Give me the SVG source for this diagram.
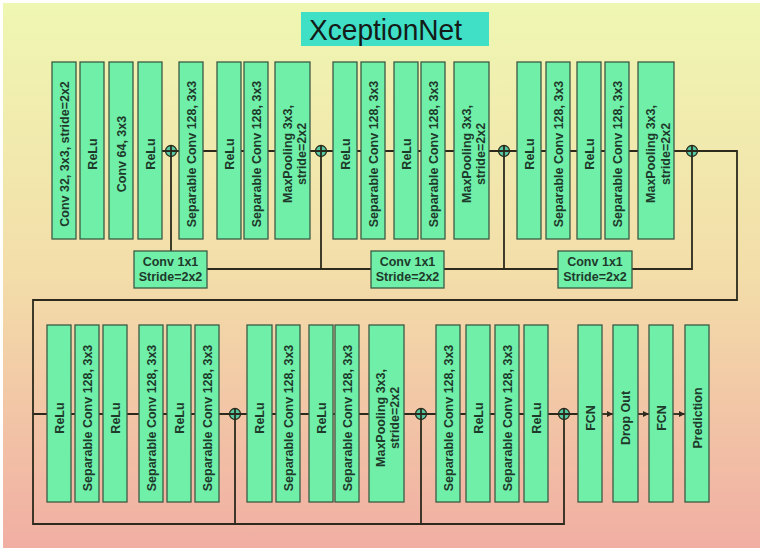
<svg xmlns="http://www.w3.org/2000/svg" width="765" height="553" viewBox="0 0 765 553">
<defs>
<linearGradient id="bg" x1="0" y1="0" x2="0" y2="1">
<stop offset="0" stop-color="#eff7b2"/>
<stop offset="0.5" stop-color="#f3dda9"/>
<stop offset="1" stop-color="#f1aea3"/>
</linearGradient>
<marker id="arr" viewBox="0 0 10 10" refX="10" refY="5" markerWidth="6" markerHeight="6" markerUnits="userSpaceOnUse" orient="auto">
<path d="M0,0 L10,5 L0,10 z" fill="#2b2a1c"/>
</marker>
</defs>
<style>
.b{fill:#70efa9;stroke:#3c5a44;stroke-width:1.3}
.t{font-family:"Liberation Sans",Arial,sans-serif;font-weight:bold;font-size:12.5px;fill:#1e3a2b;text-anchor:middle}
.l{fill:none;stroke:#2b2a1c;stroke-width:1.8}
.c{fill:#55c9a1;stroke:#2b2a1c;stroke-width:1.3}
</style>
<rect x="3" y="3" width="757" height="545" fill="url(#bg)"/>
<g id="title">
<rect x="301" y="12" width="188" height="34" fill="#3fe0c6"/>
<text x="309" y="40" font-family="'Liberation Sans Narrow','Liberation Sans',Arial,sans-serif" font-size="29" fill="#141a18" textLength="153" lengthAdjust="spacingAndGlyphs">XceptionNet</text>
</g>
<g id="connectors">
<path class="l" d="M162,151 H737 V300 H33 V524 H564 V414"/>
<path class="l" d="M33,414 H578"/>
<path class="l" d="M171,151 V251"/>
<path class="l" d="M207,269 H371"/>
<path class="l" d="M321,151 V269"/>
<path class="l" d="M444,269 H558"/>
<path class="l" d="M504,151 V269"/>
<path class="l" d="M632,269 H692 V151"/>
<path class="l" d="M235,414 V524"/>
<path class="l" d="M421,414 V524"/>
<path class="l" d="M602,414 H613" marker-end="url(#arr)"/>
<path class="l" d="M638,414 H649" marker-end="url(#arr)"/>
<path class="l" d="M673,414 H685" marker-end="url(#arr)"/>
</g>
<g id="adds">
<g id="add1"><circle class="c" cx="171" cy="151" r="5.5"/><path class="l" stroke-width="1.2" d="M165.5,151 H176.5 M171,145.5 V156.5"/></g>
<g id="add2"><circle class="c" cx="321" cy="151" r="5.5"/><path class="l" stroke-width="1.2" d="M315.5,151 H326.5 M321,145.5 V156.5"/></g>
<g id="add3"><circle class="c" cx="504" cy="151" r="5.5"/><path class="l" stroke-width="1.2" d="M498.5,151 H509.5 M504,145.5 V156.5"/></g>
<g id="add4"><circle class="c" cx="692" cy="151" r="5.5"/><path class="l" stroke-width="1.2" d="M686.5,151 H697.5 M692,145.5 V156.5"/></g>
<g id="add5"><circle class="c" cx="235" cy="414" r="5.5"/><path class="l" stroke-width="1.2" d="M229.5,414 H240.5 M235,408.5 V419.5"/></g>
<g id="add6"><circle class="c" cx="421" cy="414" r="5.5"/><path class="l" stroke-width="1.2" d="M415.5,414 H426.5 M421,408.5 V419.5"/></g>
<g id="add7"><circle class="c" cx="564" cy="414" r="5.5"/><path class="l" stroke-width="1.2" d="M558.5,414 H569.5 M564,408.5 V419.5"/></g>
</g>
<g id="top-row">
<g id="n1"><rect class="b" x="52" y="62" width="24" height="177"/><text class="t" transform="translate(64,154) rotate(-90)" y="4.5">Conv 32, 3x3, stride=2x2</text></g>
<g id="n2"><rect class="b" x="80" y="62" width="24" height="177"/><text class="t" transform="translate(92,154) rotate(-90)" y="4.5">ReLu</text></g>
<g id="n3"><rect class="b" x="109" y="62" width="24" height="177"/><text class="t" transform="translate(121,154) rotate(-90)" y="4.5">Conv 64, 3x3</text></g>
<g id="n4"><rect class="b" x="138" y="62" width="24" height="177"/><text class="t" transform="translate(150,154) rotate(-90)" y="4.5">ReLu</text></g>
<g id="n5"><rect class="b" x="179" y="62" width="24" height="177"/><text class="t" transform="translate(191,154) rotate(-90)" y="4.5">Separable Conv 128, 3x3</text></g>
<g id="n6"><rect class="b" x="217" y="62" width="24" height="177"/><text class="t" transform="translate(229,154) rotate(-90)" y="4.5">ReLu</text></g>
<g id="n7"><rect class="b" x="244" y="62" width="24" height="177"/><text class="t" transform="translate(256,154) rotate(-90)" y="4.5">Separable Conv 128, 3x3</text></g>
<g id="n8"><rect class="b" x="275" y="62" width="35" height="177"/><text class="t" transform="translate(292.5,154) rotate(-90)"><tspan x="0" y="-1">MaxPooling 3x3,</tspan><tspan x="0" y="13.5">stride=2x2</tspan></text></g>
<g id="n9"><rect class="b" x="333" y="62" width="24" height="177"/><text class="t" transform="translate(345,154) rotate(-90)" y="4.5">ReLu</text></g>
<g id="n10"><rect class="b" x="361" y="62" width="24" height="177"/><text class="t" transform="translate(373,154) rotate(-90)" y="4.5">Separable Conv 128, 3x3</text></g>
<g id="n11"><rect class="b" x="394" y="62" width="24" height="177"/><text class="t" transform="translate(406,154) rotate(-90)" y="4.5">ReLu</text></g>
<g id="n12"><rect class="b" x="421" y="62" width="24" height="177"/><text class="t" transform="translate(433,154) rotate(-90)" y="4.5">Separable Conv 128, 3x3</text></g>
<g id="n13"><rect class="b" x="454" y="62" width="35" height="177"/><text class="t" transform="translate(471.5,154) rotate(-90)"><tspan x="0" y="-1">MaxPooling 3x3,</tspan><tspan x="0" y="13.5">stride=2x2</tspan></text></g>
<g id="n14"><rect class="b" x="517" y="62" width="24" height="177"/><text class="t" transform="translate(529,154) rotate(-90)" y="4.5">ReLu</text></g>
<g id="n15"><rect class="b" x="546" y="62" width="24" height="177"/><text class="t" transform="translate(558,154) rotate(-90)" y="4.5">Separable Conv 128, 3x3</text></g>
<g id="n16"><rect class="b" x="577" y="62" width="24" height="177"/><text class="t" transform="translate(589,154) rotate(-90)" y="4.5">ReLu</text></g>
<g id="n17"><rect class="b" x="605" y="62" width="24" height="177"/><text class="t" transform="translate(617,154) rotate(-90)" y="4.5">Separable Conv 128, 3x3</text></g>
<g id="n18"><rect class="b" x="638" y="62" width="36" height="177"/><text class="t" transform="translate(656,154) rotate(-90)"><tspan x="0" y="-1">MaxPooling 3x3,</tspan><tspan x="0" y="13.5">stride=2x2</tspan></text></g>
</g>
<g id="skip-convs">
<g id="s1"><rect class="b" x="134" y="251" width="73" height="37"/><text class="t" x="170.5" y="266">Conv 1x1</text><text class="t" x="170.5" y="281">Stride=2x2</text></g>
<g id="s2"><rect class="b" x="371" y="251" width="73" height="37"/><text class="t" x="407.5" y="266">Conv 1x1</text><text class="t" x="407.5" y="281">Stride=2x2</text></g>
<g id="s3"><rect class="b" x="558" y="251" width="74" height="37"/><text class="t" x="595" y="266">Conv 1x1</text><text class="t" x="595" y="281">Stride=2x2</text></g>
</g>
<g id="bottom-row">
<g id="m1"><rect class="b" x="47" y="325" width="24" height="177"/><text class="t" transform="translate(59,418) rotate(-90)" y="4.5">ReLu</text></g>
<g id="m2"><rect class="b" x="75" y="325" width="24" height="177"/><text class="t" transform="translate(87,418) rotate(-90)" y="4.5">Separable Conv 128, 3x3</text></g>
<g id="m3"><rect class="b" x="103" y="325" width="24" height="177"/><text class="t" transform="translate(115,418) rotate(-90)" y="4.5">ReLu</text></g>
<g id="m4"><rect class="b" x="139" y="325" width="24" height="177"/><text class="t" transform="translate(151,418) rotate(-90)" y="4.5">Separable Conv 128, 3x3</text></g>
<g id="m5"><rect class="b" x="167" y="325" width="24" height="177"/><text class="t" transform="translate(179,418) rotate(-90)" y="4.5">ReLu</text></g>
<g id="m6"><rect class="b" x="195" y="325" width="24" height="177"/><text class="t" transform="translate(207,418) rotate(-90)" y="4.5">Separable Conv 128, 3x3</text></g>
<g id="m7"><rect class="b" x="247" y="325" width="25" height="177"/><text class="t" transform="translate(259.5,418) rotate(-90)" y="4.5">ReLu</text></g>
<g id="m8"><rect class="b" x="276" y="325" width="24" height="177"/><text class="t" transform="translate(288,418) rotate(-90)" y="4.5">Separable Conv 128, 3x3</text></g>
<g id="m9"><rect class="b" x="309" y="325" width="24" height="177"/><text class="t" transform="translate(321,418) rotate(-90)" y="4.5">ReLu</text></g>
<g id="m10"><rect class="b" x="335" y="325" width="24" height="177"/><text class="t" transform="translate(347,418) rotate(-90)" y="4.5">Separable Conv 128, 3x3</text></g>
<g id="m11"><rect class="b" x="369" y="325" width="35" height="177"/><text class="t" transform="translate(386.5,418) rotate(-90)"><tspan x="0" y="-2">MaxPooling 3x3,</tspan><tspan x="0" y="12.5">stride=2x2</tspan></text></g>
<g id="m12"><rect class="b" x="436" y="325" width="24" height="177"/><text class="t" transform="translate(448,418) rotate(-90)" y="4.5">Separable Conv 128, 3x3</text></g>
<g id="m13"><rect class="b" x="466" y="325" width="24" height="177"/><text class="t" transform="translate(478,418) rotate(-90)" y="4.5">ReLu</text></g>
<g id="m14"><rect class="b" x="495" y="325" width="24" height="177"/><text class="t" transform="translate(507,418) rotate(-90)" y="4.5">Separable Conv 128, 3x3</text></g>
<g id="m15"><rect class="b" x="524" y="325" width="24" height="177"/><text class="t" transform="translate(536,418) rotate(-90)" y="4.5">ReLu</text></g>
<g id="m16"><rect class="b" x="578" y="325" width="24" height="177"/><text class="t" transform="translate(590,418) rotate(-90)" y="4.5">FCN</text></g>
<g id="m17"><rect class="b" x="613" y="325" width="25" height="177"/><text class="t" transform="translate(625.5,418) rotate(-90)" y="4.5">Drop Out</text></g>
<g id="m18"><rect class="b" x="649" y="325" width="24" height="177"/><text class="t" transform="translate(661,418) rotate(-90)" y="4.5">FCN</text></g>
<g id="m19"><rect class="b" x="685" y="325" width="24" height="177"/><text class="t" transform="translate(697,418) rotate(-90)" y="4.5">Prediction</text></g>
</g>
</svg>
